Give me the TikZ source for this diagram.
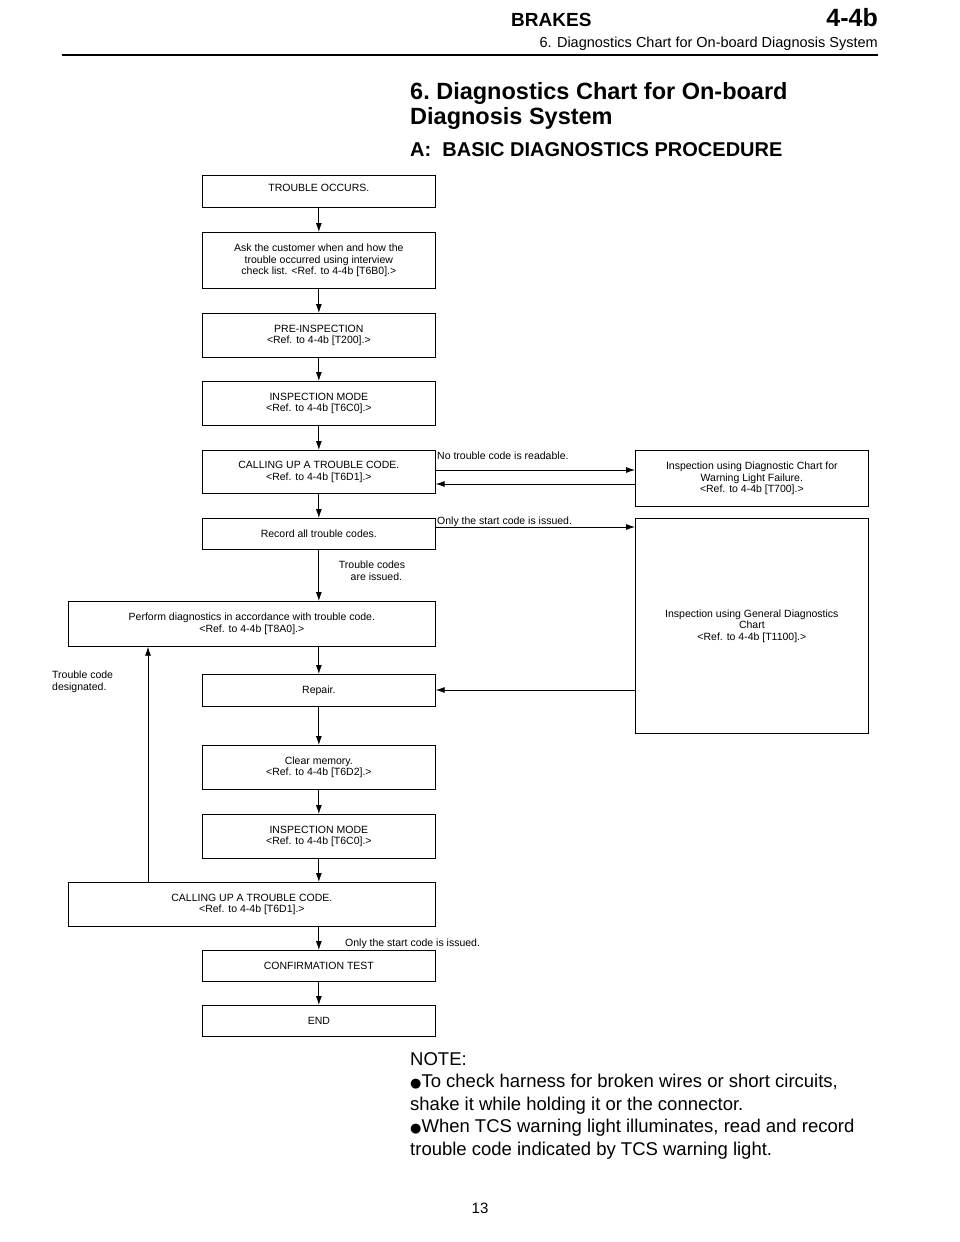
\documentclass[tikz,border=0pt]{standalone}
\usepackage{fontspec}
\setmainfont{Liberation Sans}
\newfontfamily\dejavu{DejaVu Sans}
\usetikzlibrary{arrows.meta}
\begin{document}
\begin{tikzpicture}[x=1pt,y=-1pt,
  bx/.style={draw,line width=0.7pt,anchor=north west,inner sep=2pt,align=center,font=\fontsize{10.5}{11.5}\selectfont},
  lbl/.style={font=\fontsize{10.5}{11.5}\selectfont,inner sep=0pt},
  arr/.style={line width=0.8pt,-{Latex[length=9pt,width=6pt]}}]
\useasboundingbox (0,0) rectangle (960,1242);
% header
\node[anchor=base west,font=\bfseries\fontsize{19}{20}\selectfont,inner sep=0] (hb) at (511,26) {BRAKES};
\node[anchor=base east,font=\bfseries\fontsize{25}{26}\selectfont,inner sep=0] (hn) at (878,26) {4-4b};
\node[anchor=base east,font=\fontsize{14.5}{16}\selectfont,inner sep=0] (hs) at (878,47) {6. Diagnostics Chart for On-board Diagnosis System};
\draw[line width=2pt] (62,55) coordinate (l1) -- (878,55) coordinate (l2);
% title
\node[anchor=north west,align=left,font=\bfseries\fontsize{23.5}{25}\selectfont,inner sep=0] (t) at (410,82) {6.\ Diagnostics Chart for On-board\\Diagnosis System};
\node[anchor=north west,font=\bfseries\fontsize{20}{21}\selectfont,inner sep=0] (ts) at (410,142) {A:\ \ BASIC DIAGNOSTICS PROCEDURE};
% boxes
\node[bx,minimum width=233pt,minimum height=32pt] (b1) at (202,175) {\raisebox{7pt}{TROUBLE OCCURS.}};
\node[bx,minimum width=233pt,minimum height=56pt] (b2) at (202,232) {Ask the customer when and how the\\trouble occurred using interview\\check list. <Ref. to 4-4b [T6B0].>};
\node[bx,minimum width=233pt,minimum height=44pt] (b3) at (202,313) {PRE-INSPECTION\\<Ref. to 4-4b [T200].>};
\node[bx,minimum width=233pt,minimum height=44pt] (b4) at (202,381) {INSPECTION MODE\\<Ref. to 4-4b [T6C0].>};
\node[bx,minimum width=233pt,minimum height=43pt] (b5) at (202,450) {CALLING UP A TROUBLE CODE.\\<Ref. to 4-4b [T6D1].>};
\node[bx,minimum width=233pt,minimum height=31pt] (b6) at (202,518) {Record all trouble codes.};
\node[bx,minimum width=367pt,minimum height=45pt] (b7) at (68,601) {Perform diagnostics in accordance with trouble code.\\<Ref. to 4-4b [T8A0].>};
\node[bx,minimum width=233pt,minimum height=32pt] (b8) at (202,674) {Repair.};
\node[bx,minimum width=233pt,minimum height=44pt] (b9) at (202,745) {Clear memory.\\<Ref. to 4-4b [T6D2].>};
\node[bx,minimum width=233pt,minimum height=44pt] (b10) at (202,814) {INSPECTION MODE\\<Ref. to 4-4b [T6C0].>};
\node[bx,minimum width=367pt,minimum height=44pt] (b11) at (68,882) {CALLING UP A TROUBLE CODE.\\<Ref. to 4-4b [T6D1].>};
\node[bx,minimum width=233pt,minimum height=31pt] (b12) at (202,950) {CONFIRMATION TEST};
\node[bx,minimum width=233pt,minimum height=31pt] (b13) at (202,1005) {END};
\node[bx,minimum width=233pt,minimum height=56pt] (r1) at (635,450) {Inspection using Diagnostic Chart for\\Warning Light Failure.\\<Ref. to 4-4b [T700].>};
\node[bx,minimum width=233pt,minimum height=215pt] (r2) at (635,518) {Inspection using General Diagnostics\\Chart\\<Ref. to 4-4b [T1100].>};
% vertical arrows
\foreach \a/\b in {b1/b2,b2/b3,b3/b4,b4/b5,b5/b6,b7/b8,b8/b9,b9/b10,b10/b11,b12/b13}
  \draw[arr] (\a.south -| b1.south) -- (b1.south |- \b.north);
\draw[arr] (b1.south |- b6.south) -- (b1.south |- b7.north);
\draw[arr] (b1.south |- b11.south) -- (b1.south |- b12.north);
% side connections
\draw[arr] ([yshift=-20pt]b5.north east) -- ([yshift=-20pt]b5.north east -| r1.west);
\draw[arr] ([yshift=-34pt]b5.north east -| r1.west) -- ([yshift=-34pt]b5.north east);
\draw[arr] ([yshift=-9pt]b6.north east) -- ([yshift=-9pt]b6.north east -| r2.west);
\draw[arr] ([yshift=-16pt]b8.north east -| r2.west) -- ([yshift=-16pt]b8.north east);
\draw[arr] ([xshift=80pt]b11.north west) -- ([xshift=80pt]b7.south west);
% labels
\node[lbl,anchor=base west] (n1) at (437,459) {No trouble code is readable.};
\node[lbl,anchor=base west] (n2) at (437,524) {Only the start code is issued.};
\node[lbl,anchor=north,align=center] (n3) at (372,561) {Trouble codes\\\ \ \ are issued.};
\node[lbl,anchor=north west,align=left] (n4) at (52,671) {Trouble code\\designated.};
\node[lbl,anchor=base west] (n5) at (345,946) {Only the start code is issued.};
% note
\node[anchor=north west,align=left,inner sep=0,font=\fontsize{18.5}{22.6}\selectfont] (note) at (410,1052) {NOTE:\\{\dejavu\fontsize{13}{13}\selectfont●}To check harness for broken wires or short circuits,\\shake it while holding it or the connector.\\{\dejavu\fontsize{13}{13}\selectfont●}When TCS warning light illuminates, read and record\\trouble code indicated by TCS warning light.};
\node[font=\fontsize{15}{16}\selectfont,inner sep=0] (pg) at (480,1208) {13};
\end{tikzpicture}
\end{document}
